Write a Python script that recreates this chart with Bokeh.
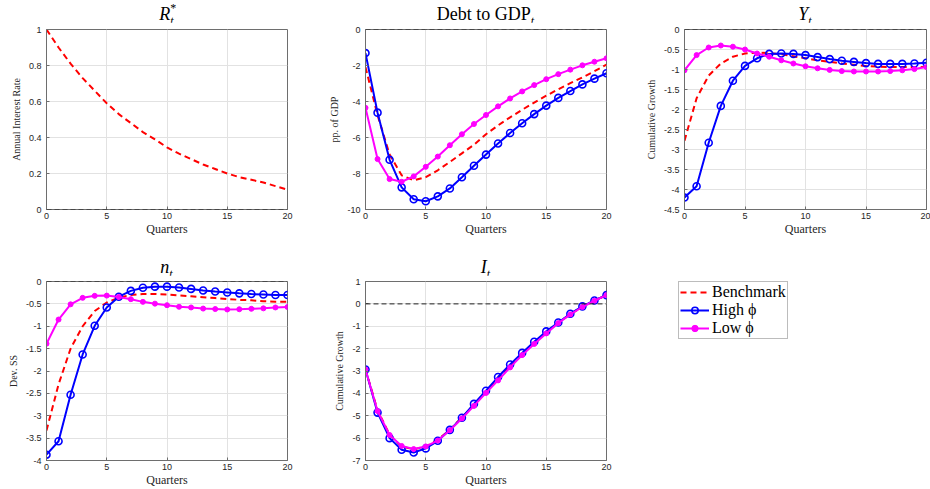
from bokeh.plotting import figure
from bokeh.layouts import column, row
from bokeh.models import (Range1d, FixedTicker, Span, Legend, LegendItem, Div,
                          NumeralTickFormatter)
from bokeh.embed import file_html
from bokeh.resources import INLINE

# ---------------- data ----------------
quarters = list(range(21))
x_ticks = [0, 5, 10, 15, 20]

rstar_bench = [1.00, 0.90, 0.81, 0.73, 0.66, 0.59, 0.53, 0.48, 0.43, 0.39, 0.345,
               0.31, 0.28, 0.25, 0.225, 0.20, 0.18, 0.165, 0.15, 0.13, 0.11]

debt_bench = [-2.09, -4.75, -6.95, -8.10, -8.38, -8.20, -7.82, -7.36, -6.88, -6.40, -5.82,
              -5.33, -4.88, -4.46, -4.06, -3.68, -3.32, -2.98, -2.66, -2.32, -1.95]
debt_high = [-1.31, -4.62, -7.24, -8.77, -9.43, -9.54, -9.27, -8.83, -8.21, -7.57, -6.95,
             -6.33, -5.75, -5.21, -4.70, -4.23, -3.80, -3.42, -3.05, -2.73, -2.43]
debt_low = [-4.35, -7.20, -8.31, -8.46, -8.16, -7.63, -7.06, -6.43, -5.82, -5.25, -4.75,
            -4.27, -3.83, -3.44, -3.09, -2.76, -2.48, -2.23, -1.99, -1.79, -1.60]

y_bench = [-2.78, -1.72, -1.15, -0.85, -0.68, -0.60, -0.58, -0.59, -0.62, -0.67, -0.72,
           -0.77, -0.81, -0.85, -0.88, -0.91, -0.93, -0.94, -0.94, -0.94, -0.93]
y_high = [-4.20, -3.92, -2.83, -1.91, -1.28, -0.91, -0.72, -0.61, -0.60, -0.61, -0.64,
          -0.69, -0.74, -0.78, -0.81, -0.84, -0.86, -0.86, -0.86, -0.85, -0.83]
y_low = [-1.02, -0.64, -0.45, -0.40, -0.43, -0.50, -0.60, -0.68, -0.77, -0.85, -0.92,
         -0.97, -1.01, -1.04, -1.05, -1.05, -1.05, -1.04, -1.02, -0.99, -0.94]

n_bench = [-3.33, -2.30, -1.50, -1.00, -0.66, -0.47, -0.36, -0.30, -0.28, -0.28, -0.29,
           -0.31, -0.33, -0.35, -0.37, -0.39, -0.41, -0.42, -0.44, -0.45, -0.45]
n_high = [-3.87, -3.57, -2.53, -1.63, -0.99, -0.58, -0.34, -0.21, -0.14, -0.115, -0.115,
          -0.135, -0.165, -0.20, -0.225, -0.245, -0.265, -0.28, -0.29, -0.30, -0.30]
n_low = [-1.39, -0.85, -0.51, -0.365, -0.32, -0.315, -0.345, -0.395, -0.455, -0.495, -0.53,
         -0.565, -0.58, -0.605, -0.615, -0.625, -0.62, -0.61, -0.60, -0.58, -0.57]

i_bench = [-2.93, -4.75, -5.85, -6.38, -6.50, -6.38, -6.08, -5.62, -5.08, -4.50, -3.92,
           -3.35, -2.78, -2.24, -1.74, -1.28, -0.85, -0.46, -0.13, 0.15, 0.39]
i_high = [-2.93, -4.86, -6.00, -6.52, -6.64, -6.46, -6.12, -5.63, -5.09, -4.47, -3.88,
          -3.27, -2.71, -2.19, -1.69, -1.23, -0.83, -0.44, -0.11, 0.15, 0.39]
i_low = [-2.93, -4.79, -5.86, -6.35, -6.49, -6.37, -6.11, -5.65, -5.12, -4.56, -3.98,
         -3.42, -2.84, -2.29, -1.79, -1.32, -0.86, -0.47, -0.14, 0.14, 0.39]

y_labels = ["Annual Interest Rate", "pp. of GDP", "Cumulative Growth", "Dev. SS", "Cumulative Growth"]
x_label = "Quarters"
y_limits = [(0, 1), (-10, 0), (-4.5, 0), (-4, 0), (-7, 1)]
y_ticks = [[0, 0.2, 0.4, 0.6, 0.8, 1],
           [-10, -8, -6, -4, -2, 0],
           [-4.5, -4, -3.5, -3, -2.5, -2, -1.5, -1, -0.5, 0],
           [-4, -3.5, -3, -2.5, -2, -1.5, -1, -0.5, 0],
           [-7, -6, -5, -4, -3, -2, -1, 0, 1]]
legend_labels = ["Benchmark", "High \u03d5", "Low \u03d5"]

# ---------------- style ----------------
RED = "#ff0000"
BLUE = "#0000ff"
MAG = "#ff00ff"
AX = "#6e6e6e"
TXT = "#262626"
SERIF = "Liberation Serif"
SANS = "Liberation Sans"

SUB = "font-style:italic;font-size:12px;line-height:12px;position:relative;top:5px;"
SUP = "font-size:12px;line-height:12px;position:relative;top:-8px;"
title_html = [
    '<i>R</i><span style="%s">*</span><span style="%sleft:-6px;margin-right:-6px;">t</span>' % (SUP, SUB),
    'Debt to GDP<span style="%s">t</span>' % SUB,
    '<i>Y</i><span style="%s">t</span>' % SUB,
    '<i>n</i><span style="%s">t</span>' % SUB,
    '<i>I</i><span style="%s">t</span>' % SUB,
]


def make_title(idx, bl, br, frame_w, height, pad):
    html = '<div style="padding-top:%dpx;line-height:18px;white-space:nowrap;">%s</div>' % (pad, title_html[idx])
    return Div(text=html, width=frame_w, height=height, margin=(0, br, 0, bl),
               styles={"font-family": SERIF, "font-size": "18px", "text-align": "center",
                       "color": "black", "overflow": "visible"})


def make_panel(width, height, bl, br, bt, bb, idx):
    lo, hi = y_limits[idx]
    p = figure(width=width, height=height, x_range=Range1d(0, 20), y_range=Range1d(lo, hi),
               output_backend="svg", toolbar_location=None, title=None,
               min_border_left=bl, min_border_right=br, min_border_top=bt, min_border_bottom=bb)
    p.xaxis.ticker = FixedTicker(ticks=x_ticks)
    p.yaxis.ticker = FixedTicker(ticks=y_ticks[idx])
    p.yaxis.formatter = NumeralTickFormatter(format="0.[0]")
    p.xaxis.formatter = NumeralTickFormatter(format="0")
    p.xaxis.axis_label = x_label
    p.yaxis.axis_label = y_labels[idx]
    for ax in p.axis:
        ax.axis_line_color = AX
        ax.axis_line_width = 1
        ax.major_tick_line_color = AX
        ax.major_tick_in = 3
        ax.major_tick_out = 0
        ax.minor_tick_line_color = None
        ax.major_label_text_font = SANS
        ax.major_label_text_font_size = "9px"
        ax.major_label_text_color = TXT
        ax.axis_label_text_font = SERIF
        ax.axis_label_text_font_style = "normal"
        ax.axis_label_text_color = TXT
    p.xaxis.major_label_standoff = 3
    p.xaxis.axis_label_standoff = 0
    p.xaxis.axis_label_text_font_size = "12px"
    p.yaxis.major_label_standoff = 5
    p.yaxis.axis_label_standoff = 4
    p.yaxis.axis_label_text_font_size = "10px"
    p.grid.grid_line_color = "#e2e2e2"
    p.grid.grid_line_width = 1
    p.outline_line_color = AX
    p.outline_line_width = 1
    p.background_fill_color = "white"
    p.border_fill_color = "white"
    p.add_layout(Span(location=0, dimension="width", line_color="#222222",
                      line_dash="5 3", line_width=1))
    return p


def plot_three(p, bench, high, low):
    rb = p.line(quarters, bench, line_color=RED, line_width=2, line_dash="6 4")
    rh = rl = None
    if high is not None:
        rh = [p.line(quarters, high, line_color=BLUE, line_width=2),
              p.scatter(quarters, high, marker="circle", size=7, line_color=BLUE,
                        line_width=1.6, fill_color=None)]
    if low is not None:
        rl = [p.line(quarters, low, line_color=MAG, line_width=2),
              p.scatter(quarters, low, marker="circle", size=5, line_color=MAG,
                        fill_color=MAG)]
    return rb, rh, rl


# column geometry: (figure width, left border, right border)
cols = [(320, 46, 33), (320, 45, 34), (290, 44, 4)]

row1 = []
row2 = []
panels = []
for i, (w, bl, br) in enumerate(cols):
    p = make_panel(w, 228, bl, br, 7, 41, i)
    panels.append(p)
    row1.append(column(make_title(i, bl, br, w - bl - br, 22, 5), p))
for i, (w, bl, br) in enumerate(cols[:2]):
    p = make_panel(w, 214, bl, br, 6, 27, i + 3)
    panels.append(p)
    row2.append(column(make_title(i + 3, bl, br, w - bl - br, 25, 8), p))

p1, p2, p3, p4, p5 = panels
plot_three(p1, rstar_bench, None, None)
plot_three(p2, debt_bench, debt_high, debt_low)
plot_three(p3, y_bench, y_high, y_low)
plot_three(p4, n_bench, n_high, n_low)
plot_three(p5, i_bench, i_high, i_low)

# legend panel: the series are drawn outside its (empty) view so only the legend shows
p6 = figure(width=290, height=239, x_range=Range1d(100, 101), y_range=Range1d(100, 101),
            output_backend="svg", toolbar_location=None, title=None,
            x_axis_location=None, y_axis_location=None,
            min_border_left=37, min_border_top=30, min_border_right=0, min_border_bottom=0)
p6.grid.grid_line_color = None
p6.outline_line_color = None
lb, lh, ll = plot_three(p6, i_bench, i_high, i_low)
legend = Legend(items=[LegendItem(label=legend_labels[0], renderers=[lb]),
                       LegendItem(label=legend_labels[1], renderers=lh),
                       LegendItem(label=legend_labels[2], renderers=ll)],
                location="top_left")
legend.label_text_font = SERIF
legend.label_text_font_size = "16px"
legend.label_text_color = "black"
legend.glyph_width = 29
legend.glyph_height = 16
legend.label_height = 16
legend.label_standoff = 3
legend.spacing = 0
legend.padding = 1
legend.margin = 1
legend.border_line_color = "#7a7a7a"
legend.border_line_width = 1
legend.background_fill_color = "white"
legend.background_fill_alpha = 1
p6.add_layout(legend)
row2.append(p6)

layout = column(row(*row1), row(*row2))
open("out.html", "w").write(file_html(layout, INLINE))
